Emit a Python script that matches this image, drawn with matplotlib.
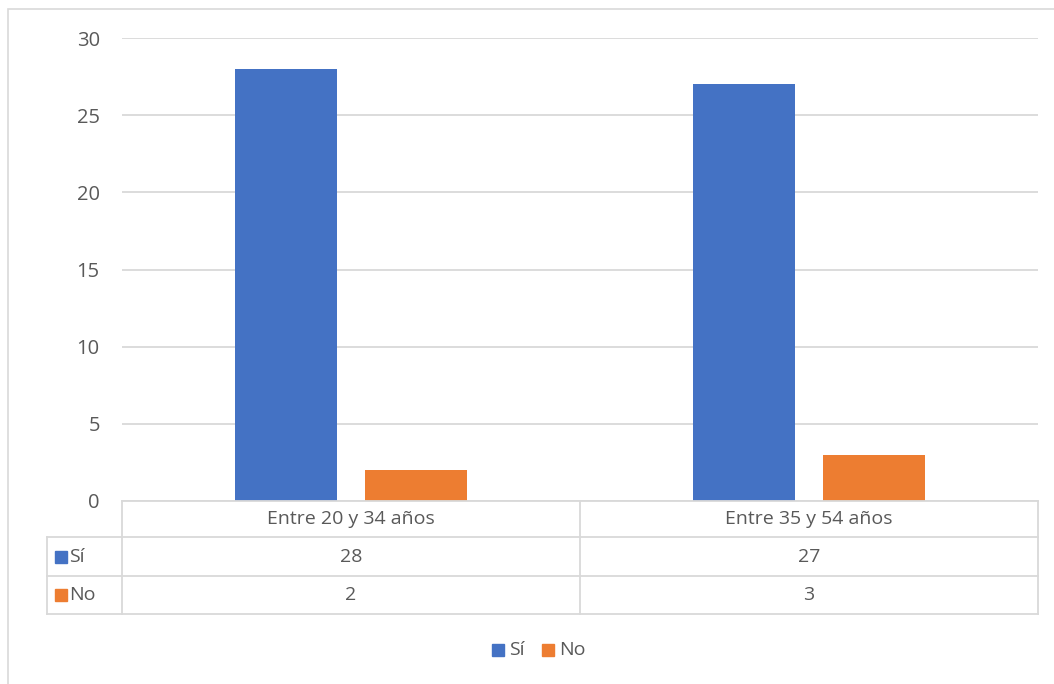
import matplotlib.pyplot as plt
from matplotlib.patches import Rectangle
from matplotlib.lines import Line2D

categorias = ["Entre 20 y 34 años", "Entre 35 y 54 años"]
series = ["Sí", "No"]
valores_si = [28, 27]
valores_no = [2, 3]
ticks_y = [0, 5, 10, 15, 20, 25, 30]

AZUL = "#4472C4"
NARANJA = "#ED7D31"
GRIS_TEXTO = "#595959"
GRIS_LINEA = "#D9D9D9"
ANCHO, ALTO = 1054, 684

plt.rcParams["font.family"] = ["Open Sans", "DejaVu Sans"]

fig = plt.figure(figsize=(ANCHO / 100, ALTO / 100), dpi=100)

def fx(px):
    return px / ANCHO

def fy(py):
    return 1 - py / ALTO

# borde del area del grafico
fig.patches.append(Rectangle((fx(8), fy(700)), fx(1060) - fx(8), fy(9) - fy(700),
                             transform=fig.transFigure, fill=False,
                             edgecolor=GRIS_LINEA, linewidth=1.2))

x0, x1, ytop, ybot = 122, 1038, 38, 501
ax = fig.add_axes([fx(x0), fy(ybot), fx(x1) - fx(x0), fy(ytop) - fy(ybot)])

ancho_barra = 0.223
desplaz = 0.142
pos = list(range(len(categorias)))
ax.bar([p - desplaz for p in pos], valores_si, width=ancho_barra, color=AZUL, zorder=3)
ax.bar([p + desplaz for p in pos], valores_no, width=ancho_barra, color=NARANJA, zorder=3)

ax.set_xlim(-0.5, len(categorias) - 0.5)
ax.set_ylim(0, 30)
ax.set_yticks(ticks_y)
ax.set_yticklabels([str(t) for t in ticks_y], color=GRIS_TEXTO, fontsize=14.5)
ax.tick_params(axis="y", length=0, pad=16)
ax.set_xticks([])
ax.grid(axis="y", color=GRIS_LINEA, linewidth=1.3, zorder=0)
for s in ax.spines.values():
    s.set_visible(False)

# tabla de datos
col_izq = 47
filas_y = [501, 537, 576, 614]
cat_px = (x1 - x0) / len(categorias)
lw = 1.3
fig.add_artist(Line2D([fx(x0), fx(x1)], [fy(filas_y[0])] * 2, color=GRIS_LINEA, lw=lw))
for yy in filas_y[1:]:
    fig.add_artist(Line2D([fx(col_izq), fx(x1)], [fy(yy)] * 2, color=GRIS_LINEA, lw=lw))
fig.add_artist(Line2D([fx(col_izq)] * 2, [fy(filas_y[1]), fy(filas_y[3])], color=GRIS_LINEA, lw=lw))
for i in range(len(categorias) + 1):
    xx = x0 + i * cat_px
    fig.add_artist(Line2D([fx(xx)] * 2, [fy(filas_y[0]), fy(filas_y[3])], color=GRIS_LINEA, lw=lw))

fs = 14
for i, cat in enumerate(categorias):
    xc = x0 + (i + 0.5) * cat_px
    fig.text(fx(xc), fy((filas_y[0] + filas_y[1]) / 2), cat, ha="center", va="center",
             color=GRIS_TEXTO, fontsize=fs)
    fig.text(fx(xc), fy((filas_y[1] + filas_y[2]) / 2), str(valores_si[i]), ha="center",
             va="center", color=GRIS_TEXTO, fontsize=fs)
    fig.text(fx(xc), fy((filas_y[2] + filas_y[3]) / 2), str(valores_no[i]), ha="center",
             va="center", color=GRIS_TEXTO, fontsize=fs)

for j, (nombre, color) in enumerate(zip(series, [AZUL, NARANJA])):
    yc = (filas_y[j + 1] + filas_y[j + 2]) / 2
    fig.patches.append(Rectangle((fx(55), fy(yc + 6)), fx(12), fy(0) - fy(12),
                                 transform=fig.transFigure, color=color))
    fig.text(fx(69), fy(yc), nombre, ha="left", va="center", color=GRIS_TEXTO, fontsize=fs)

# leyenda
ley_y = 650
for nombre, color, xk in zip(series, [AZUL, NARANJA], [492, 542]):
    fig.patches.append(Rectangle((fx(xk), fy(ley_y + 6)), fx(12), fy(0) - fy(12),
                                 transform=fig.transFigure, color=color))
    fig.text(fx(xk + 17), fy(ley_y), nombre, ha="left", va="center", color=GRIS_TEXTO, fontsize=fs)

fig.savefig("out.png", dpi=100)
